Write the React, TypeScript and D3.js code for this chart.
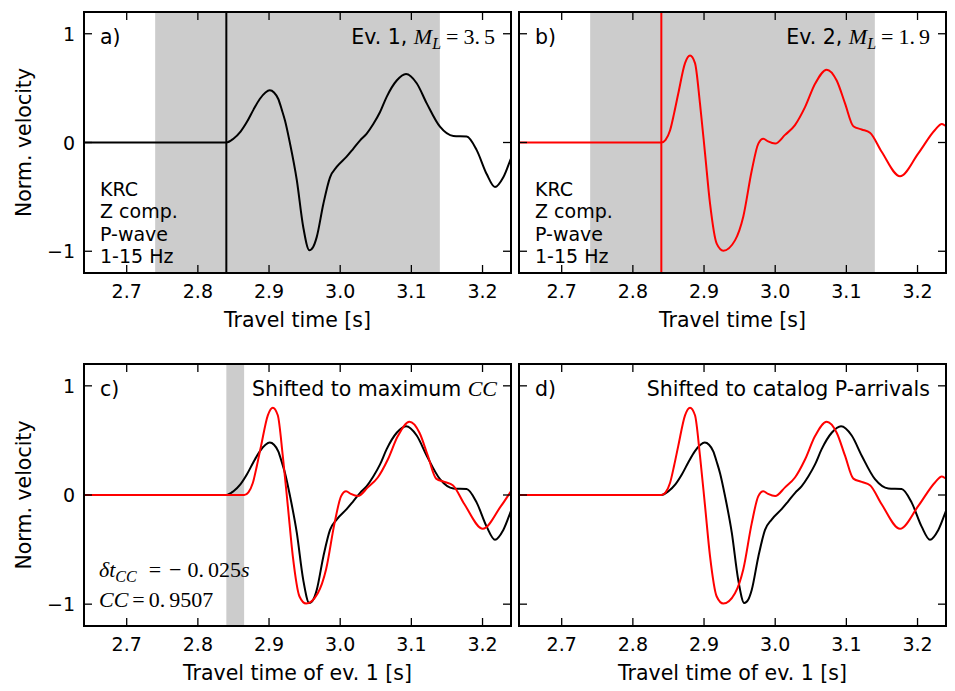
import React from "react";
import * as d3 from "d3";

// ---- data ----
const X_DOMAIN = [2.64, 3.24];
const Y_DOMAIN = [-1.2, 1.2];
const xTicks = [2.7, 2.8, 2.9, 3.0, 3.1, 3.2];
const yTicks = [-1, 0, 1];

// Event 1 (black), travel time [s] and normalized velocity
const ev1T = [2.6, 2.84, 2.85, 2.86, 2.869, 2.878, 2.887, 2.895, 2.901, 2.907, 2.913, 2.918, 2.9225, 2.9295, 2.939, 2.948, 2.9566, 2.962, 2.967, 2.9763, 2.9857, 2.995, 3.009, 3.018, 3.028, 3.037, 3.0465, 3.056, 3.0653, 3.0794, 3.0925, 3.1075, 3.1216, 3.1402, 3.159, 3.1777, 3.1918, 3.2058, 3.2175, 3.2292, 3.241, 3.25];
const ev1V = [0, 0, 0.035, 0.1, 0.19, 0.3, 0.4, 0.46, 0.48, 0.46, 0.4, 0.3, 0.2, -0.01, -0.345, -0.775, -0.99, -0.96, -0.87, -0.565, -0.32, -0.225, -0.13, -0.06, 0.02, 0.08, 0.17, 0.28, 0.42, 0.57, 0.63, 0.545, 0.36, 0.145, 0.06, 0.055, -0.07, -0.29, -0.41, -0.32, -0.13, 0.0];

// Event 2 (red)
const ev2T = [2.6, 2.84, 2.846, 2.8522, 2.858, 2.8638, 2.8733, 2.8803, 2.8873, 2.8943, 2.9014, 2.9084, 2.9178, 2.9271, 2.9435, 2.9552, 2.967, 2.9763, 2.9833, 2.99, 3.0, 3.0138, 3.0278, 3.0419, 3.056, 3.0724, 3.0864, 3.0981, 3.1098, 3.1215, 3.1332, 3.1496, 3.1754, 3.2011, 3.2245, 3.234, 3.24, 3.25];
const ev2V = [0, 0, 0.025, 0.11, 0.27, 0.45, 0.73, 0.8, 0.73, 0.36, -0.1, -0.56, -0.93, -0.995, -0.9, -0.68, -0.26, -0.01, 0.035, 0.01, -0.01, 0.07, 0.16, 0.325, 0.54, 0.67, 0.57, 0.36, 0.15, 0.12, 0.09, -0.085, -0.31, -0.1, 0.115, 0.17, 0.15, 0.12];

const WINDOW = [2.74, 3.14];
const PICK = 2.84;
const CC_SHIFT = 0.025; // δt_CC = -0.025 s
const CC_SHADE = [2.84, 2.865];
const infoLines = ["KRC", "Z comp.", "P-wave", "1-15 Hz"];

// ---- layout ----
const W = 955;
const H = 691;
const SANS = "'DejaVu Sans', sans-serif";
const SERIF = "'Liberation Serif', 'DejaVu Serif', serif";
const FS_TICK = 19;
const FS_LABEL = 20.5;
const FS_INFO = 19;
const FS_MATH = 22;
const FS_SUB = 16;

type Pt = [number, number];
const zip = (t: number[], v: number[], shift = 0): Pt[] => t.map((d, i) => [d + shift, v[i]]);

const ev1 = zip(ev1T, ev1V);
const ev2 = zip(ev2T, ev2V);
const ev2cc = zip(ev2T, ev2V, CC_SHIFT);

interface PanelSpec {
  id: string;
  x0: number; x1: number; y0: number; y1: number;
  yLabels: boolean;
  xLabel: string;
}

const panels: PanelSpec[] = [
  { id: "a", x0: 84, x1: 511, y0: 12, y1: 273, yLabels: true, xLabel: "Travel time [s]" },
  { id: "b", x0: 519, x1: 946, y0: 12, y1: 273, yLabels: false, xLabel: "Travel time [s]" },
  { id: "c", x0: 84, x1: 511, y0: 364, y1: 626, yLabels: true, xLabel: "Travel time of ev. 1 [s]" },
  { id: "d", x0: 519, x1: 946, y0: 364, y1: 626, yLabels: false, xLabel: "Travel time of ev. 1 [s]" },
];

const fmtX = d3.format(".1f");
const fmtY = (v: number) => (v < 0 ? "\u2212" + Math.abs(v) : String(v));

function Panel({ p }: { p: PanelSpec }) {
  const x = d3.scaleLinear().domain(X_DOMAIN).range([p.x0, p.x1]);
  const y = d3.scaleLinear().domain(Y_DOMAIN).range([p.y1, p.y0]);
  const line = d3
    .line<Pt>()
    .x((d) => x(d[0]))
    .y((d) => y(d[1]))
    .curve(d3.curveMonotoneX);
  const clipId = `clip-${p.id}`;
  const tick = 8;
  const lx = p.x0 + 16;
  const rx = p.x1 - 16;
  const top = p.y0 + 32;

  let content: React.ReactNode = null;
  if (p.id === "a" || p.id === "b") {
    const color = p.id === "a" ? "#000" : "#ff0000";
    const data = p.id === "a" ? ev1 : ev2;
    content = (
      <g clipPath={`url(#${clipId})`}>
        <rect x={x(WINDOW[0])} y={p.y0} width={x(WINDOW[1]) - x(WINDOW[0])} height={p.y1 - p.y0} fill="#cccccc" />
        <line x1={x(PICK)} x2={x(PICK)} y1={p.y0} y2={p.y1} stroke={color} strokeWidth={2} />
        <path d={line(data) || ""} fill="none" stroke={color} strokeWidth={2} />
      </g>
    );
  } else if (p.id === "c") {
    content = (
      <g clipPath={`url(#${clipId})`}>
        <rect x={x(CC_SHADE[0])} y={p.y0} width={x(CC_SHADE[1]) - x(CC_SHADE[0])} height={p.y1 - p.y0} fill="#cccccc" />
        <path d={line(ev1) || ""} fill="none" stroke="#000" strokeWidth={2} />
        <path d={line(ev2cc) || ""} fill="none" stroke="#ff0000" strokeWidth={2} />
      </g>
    );
  } else {
    content = (
      <g clipPath={`url(#${clipId})`}>
        <path d={line(ev1) || ""} fill="none" stroke="#000" strokeWidth={2} />
        <path d={line(ev2) || ""} fill="none" stroke="#ff0000" strokeWidth={2} />
      </g>
    );
  }

  const mathTail = (digitA: string, digitB: string) => (
    <>
      <tspan fontFamily={SERIF} fontStyle="italic" fontSize={FS_MATH}>M</tspan>
      <tspan fontFamily={SERIF} fontStyle="italic" fontSize={FS_SUB} dy={5}>L</tspan>
      <tspan fontFamily={SERIF} fontSize={FS_MATH} dy={-5} dx={5}>=</tspan>
      <tspan fontFamily={SERIF} fontSize={FS_MATH} dx={5}>{digitA + "."}</tspan>
      <tspan fontFamily={SERIF} fontSize={FS_MATH} dx={4}>{digitB}</tspan>
    </>
  );

  return (
    <g>
      <defs>
        <clipPath id={clipId}>
          <rect x={p.x0} y={p.y0} width={p.x1 - p.x0} height={p.y1 - p.y0} />
        </clipPath>
      </defs>
      {content}

      {/* ticks */}
      {xTicks.map((t) => (
        <g key={"xt" + t} stroke="#000" strokeWidth={1.3}>
          <line x1={x(t)} x2={x(t)} y1={p.y1} y2={p.y1 - tick} />
          <line x1={x(t)} x2={x(t)} y1={p.y0} y2={p.y0 + tick} />
        </g>
      ))}
      {yTicks.map((t) => (
        <g key={"yt" + t} stroke="#000" strokeWidth={1.3}>
          <line x1={p.x0} x2={p.x0 + tick} y1={y(t)} y2={y(t)} />
          <line x1={p.x1} x2={p.x1 - tick} y1={y(t)} y2={y(t)} />
        </g>
      ))}
      <rect x={p.x0} y={p.y0} width={p.x1 - p.x0} height={p.y1 - p.y0} fill="none" stroke="#000" strokeWidth={2} />

      {/* tick labels */}
      {xTicks.map((t) => (
        <text key={"xl" + t} x={x(t)} y={p.y1 + 25} textAnchor="middle" fontFamily={SANS} fontSize={FS_TICK}>
          {fmtX(t)}
        </text>
      ))}
      {p.yLabels &&
        yTicks.map((t) => (
          <text key={"yl" + t} x={p.x0 - 9} y={y(t) + 7} textAnchor="end" fontFamily={SANS} fontSize={FS_TICK}>
            {fmtY(t)}
          </text>
        ))}
      <text x={(p.x0 + p.x1) / 2} y={p.y1 + 54} textAnchor="middle" fontFamily={SANS} fontSize={FS_LABEL}>
        {p.xLabel}
      </text>
      {p.yLabels && (
        <text transform={`translate(31,${(p.y0 + p.y1) / 2}) rotate(-90)`} textAnchor="middle" fontFamily={SANS} fontSize={FS_LABEL}>
          Norm. velocity
        </text>
      )}

      {/* panel letter */}
      <text x={lx} y={top} fontFamily={SANS} fontSize={FS_LABEL}>
        {p.id + ")"}
      </text>

      {(p.id === "a" || p.id === "b") && (
        <>
          <text x={rx} y={top} textAnchor="end" fontFamily={SANS} fontSize={FS_LABEL}>
            {p.id === "a" ? "Ev. 1, " : "Ev. 2, "}
            {p.id === "a" ? mathTail("3", "5") : mathTail("1", "9")}
          </text>
          {infoLines.map((s, i) => (
            <text key={s} x={lx} y={p.y0 + 184 + i * 22.3} fontFamily={SANS} fontSize={FS_INFO}>
              {s}
            </text>
          ))}
        </>
      )}
      {p.id === "c" && (
        <>
          <text x={rx + 2} y={top} textAnchor="end" fontFamily={SANS} fontSize={FS_LABEL}>
            {"Shifted to maximum "}
            <tspan fontFamily={SERIF} fontStyle="italic" fontSize={FS_MATH}>CC</tspan>
          </text>
          <text x={lx - 1} y={p.y0 + 213} fontFamily={SERIF} fontSize={FS_MATH}>
            <tspan fontStyle="italic">{"\u03b4t"}</tspan>
            <tspan fontStyle="italic" fontSize={FS_SUB} dy={5}>CC</tspan>
            <tspan dy={-5} dx={12}>=</tspan>
            <tspan dx={8}>{"\u2212"}</tspan>
            <tspan dx={6}>0.</tspan>
            <tspan dx={4}>025</tspan>
            <tspan fontStyle="italic">s</tspan>
          </text>
          <text x={lx - 1} y={p.y0 + 243} fontFamily={SERIF} fontSize={FS_MATH}>
            <tspan fontStyle="italic">CC</tspan>
            <tspan dx={4}>=</tspan>
            <tspan dx={4}>0.</tspan>
            <tspan dx={4}>9507</tspan>
          </text>
        </>
      )}
      {p.id === "d" && (
        <text x={rx} y={top} textAnchor="end" fontFamily={SANS} fontSize={FS_LABEL}>
          Shifted to catalog P-arrivals
        </text>
      )}
    </g>
  );
}

export default function App() {
  return (
    <svg width={W} height={H} style={{ position: "absolute", left: 0, top: 0, background: "#fff" }}>
      <rect x={0} y={0} width={W} height={H} fill="#fff" />
      {panels.map((p) => (
        <Panel key={p.id} p={p} />
      ))}
    </svg>
  );
}
